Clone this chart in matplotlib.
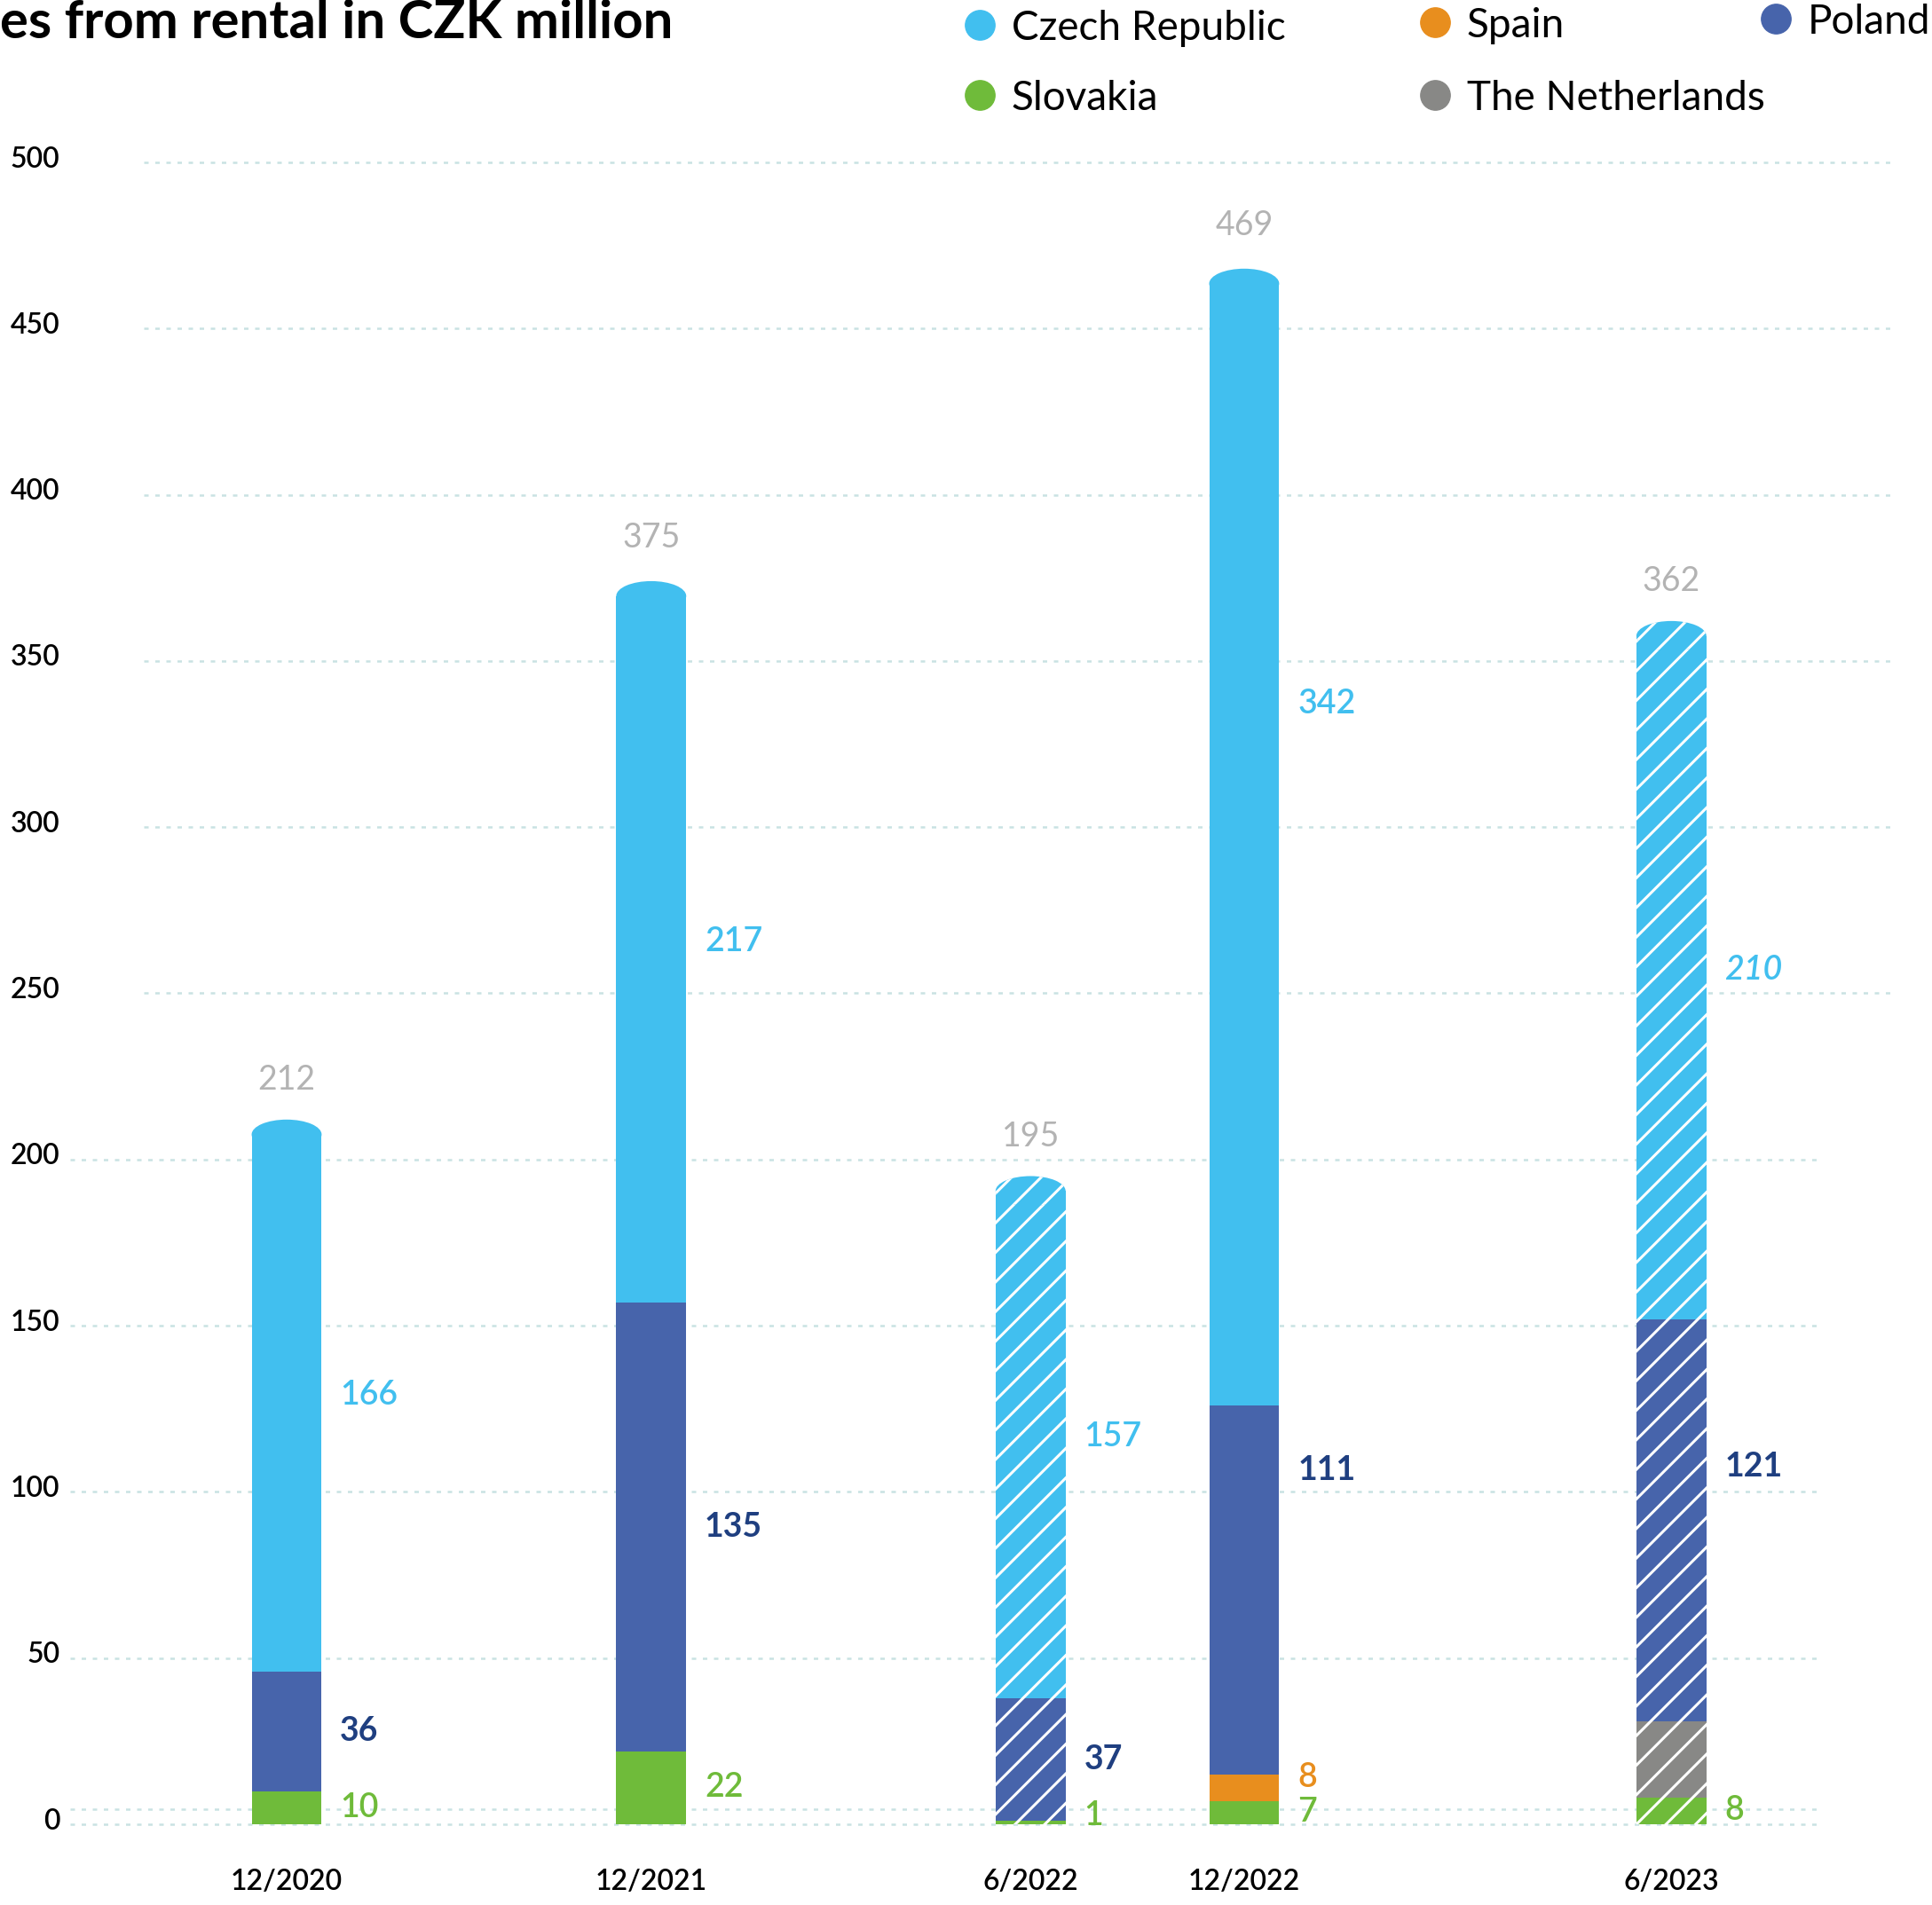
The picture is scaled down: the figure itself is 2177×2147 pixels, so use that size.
import matplotlib.pyplot as plt
from matplotlib.patches import Ellipse
from matplotlib.lines import Line2D

plt.rcParams['font.family'] = ['Lato', 'DejaVu Sans']
plt.rcParams['hatch.linewidth'] = 2.2

# data (CZK million)
periods = ['12/2020', '12/2021', '6/2022', '12/2022', '6/2023']
totals = [212, 375, 195, 469, 362]
slovakia = [10, 22, 1, 7, 8]
spain = [0, 0, 0, 8, 0]
netherlands = [0, 0, 0, 0, 23]
poland = [36, 135, 37, 111, 121]
czech = [166, 217, 157, 342, 210]
half_year = [False, False, True, False, True]

# layout / style
xpos = [0, 0.99, 2.02, 2.6, 3.76]
bar_w = 0.19
cap_h = 4.5
series = [
    ('Slovakia', slovakia, '#6fbb3a', '#6fbb3a', 'semibold'),
    ('Spain', spain, '#e88e1e', '#e88e1e', 'semibold'),
    ('The Netherlands', netherlands, '#888886', '#888886', None),
    ('Poland', poland, '#4764ab', '#1f3f80', 'bold'),
    ('Czech Republic', czech, '#41bfef', '#41bfef', 'semibold'),
]
label_nudge = {('Czech Republic', 3): 40, ('Poland', 3): 36, ('Poland', 4): 16,
               ('Spain', 3): 3, ('Slovakia', 2): 2}
italic_labels = {('Czech Republic', 4)}
grid_col = '#c9e2e3'
grid_ls = (0, (2, 3))

W, H = 2177, 2147
fig = plt.figure(figsize=(W / 100, H / 100), dpi=100)
ax = fig.add_axes([0.0744, 0.0424, 0.9045, 0.8724])
ax.set_xlim(-0.388, 4.357)
ax.set_ylim(0, 500)
for s in ax.spines.values():
    s.set_visible(False)

yt = list(range(0, 501, 50))
ax.set_yticks(yt)
ax.tick_params(axis='y', length=0, labelleft=False)
ytr = ax.get_yaxis_transform()
for v in yt + [4.5]:
    lo, hi = (-0.042, 0.958) if v <= 200 else (0.0, 1.0)
    ax.hlines(v, lo, hi, transform=ytr, colors=grid_col, linestyles=grid_ls,
              linewidth=1.8, clip_on=False, zorder=0)
for v in yt:
    ax.text(-0.048, v - 1.5, str(v), transform=ytr, ha='right', va='baseline',
            fontsize=23, fontweight='semibold')

ax.set_xticks(xpos, periods)
ax.tick_params(axis='x', length=0, pad=36, labelsize=23)
for t in ax.get_xticklabels():
    t.set_fontweight('semibold')

bottom = [0] * len(periods)
for name, vals, col, lcol, weight in series:
    top_series = name == 'Czech Republic'
    for i, v in enumerate(vals):
        if v == 0:
            continue
        hatch = '/' if half_year[i] else None
        h = v - cap_h if top_series else v
        ax.bar(xpos[i], h, bottom=bottom[i], width=bar_w, color=col,
               hatch=hatch, edgecolor='white' if hatch else col,
               linewidth=0)
        if top_series:
            ax.add_patch(Ellipse((xpos[i], bottom[i] + h), bar_w, 2 * cap_h,
                                 facecolor=col, hatch=hatch,
                                 edgecolor='white' if hatch else col,
                                 linewidth=0))
        if weight:
            y = bottom[i] + v / 2 + label_nudge.get((name, i), 0)
            ax.text(xpos[i] + 0.145, y, str(v), color=lcol, fontsize=27,
                    fontweight=weight, ha='left', va='center',
                    fontstyle='italic' if (name, i) in italic_labels else 'normal')
        bottom[i] += v

for i, t in enumerate(totals):
    ax.text(xpos[i], t + 12, str(t), color='#b3b3b3', fontsize=27,
            ha='center', va='center')

fig.text(0, 1 - 26 / H, 'es from rental in CZK million', fontsize=43,
         fontweight='bold', ha='left', va='center')

legend_items = [
    ('Czech Republic', '#41bfef', 1104, 28),
    ('Spain', '#e88e1e', 1617, 25),
    ('Poland', '#4764ab', 2001, 21),
    ('Slovakia', '#6fbb3a', 1104, 107),
    ('The Netherlands', '#888886', 1617, 107),
]
for lab, col, x, y in legend_items:
    fig.add_artist(Line2D([x / W], [1 - y / H], transform=fig.transFigure,
                          marker='o', markersize=24, color=col, linestyle='none'))
    fig.text((x + 36) / W, 1 - y / H, lab, fontsize=33, ha='left',
             va='center_baseline')

fig.savefig('out.png', dpi=100)
